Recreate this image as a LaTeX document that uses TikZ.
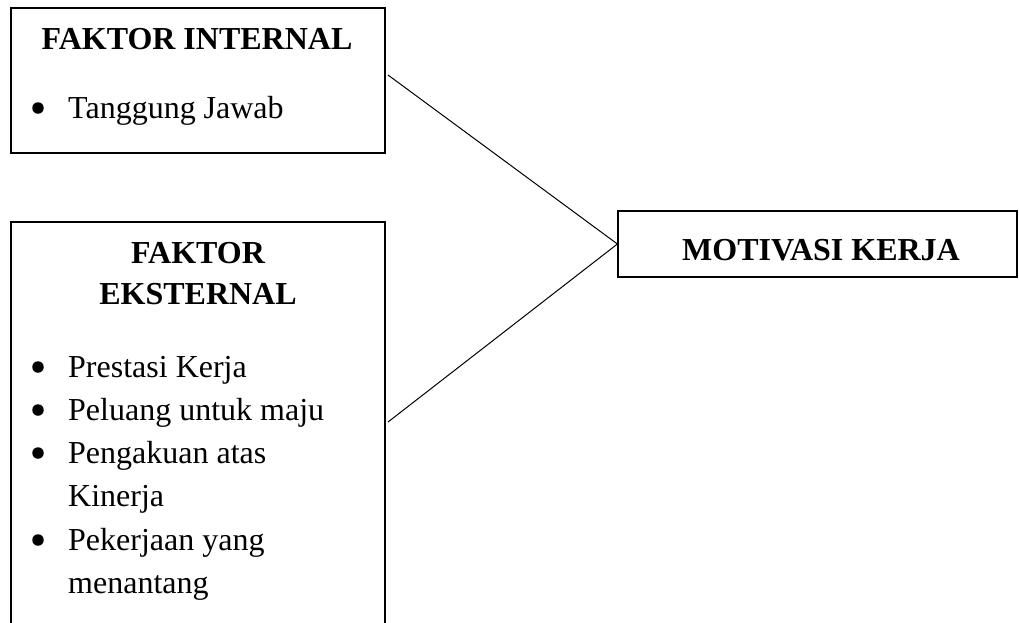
\documentclass[tikz,border=0pt]{standalone}
\usepackage{fontspec}
\setmainfont{Liberation Serif}
\begin{document}
\begin{tikzpicture}[x=1pt,y=-1pt,
  kotak/.style={draw,line width=1.2pt,inner sep=0pt},
  judul/.style={font=\fontsize{32}{41}\selectfont\bfseries,anchor=base,inner sep=0pt},
  butir/.style={font=\fontsize{32}{43}\selectfont,anchor=base west,inner sep=0pt},
  titik/.style={circle,fill,minimum size=11.5pt,inner sep=0pt}]
  \clip (0,0) rectangle (1019,622);
  % kotak
  \node[kotak,minimum width=374pt,minimum height=145pt] (internal) at (198,80.5) {};
  \node[kotak,minimum width=374pt,minimum height=440pt] (eksternal) at (198,442) {};
  \node[kotak,minimum width=399pt,minimum height=66pt] (motivasi) at (817.5,244) {};
  % judul
  \node[judul] (jint) at (197,49) {FAKTOR INTERNAL};
  \node[judul] (jeks1) at (198,263) {FAKTOR};
  \node[judul] (jeks2) at (198,304) {EKSTERNAL};
  \node[judul] (jmot) at (821,260) {MOTIVASI KERJA};
  % butir
  \node[titik] (bint) at (38,108) {};
  \node[butir] (tint) at (68,118) {Tanggung Jawab};
  \foreach \y/\teks [count=\i] in {377/Prestasi Kerja,420/Peluang untuk maju,463/Pengakuan atas,550/Pekerjaan yang}{
    \node[titik] (beks\i) at (38,\y-10) {};
    \node[butir] (teks\i) at (68,\y) {\teks};
  }
  \node[butir] (teks5) at (68,506) {Kinerja};
  \node[butir] (teks6) at (68,593) {menantang};
  % garis
  \coordinate (a) at (388,75);
  \coordinate (b) at (388,422);
  \draw[line width=1pt] (a) -- (motivasi.west);
  \draw[line width=1pt] (b) -- (motivasi.west);
\end{tikzpicture}
\end{document}
